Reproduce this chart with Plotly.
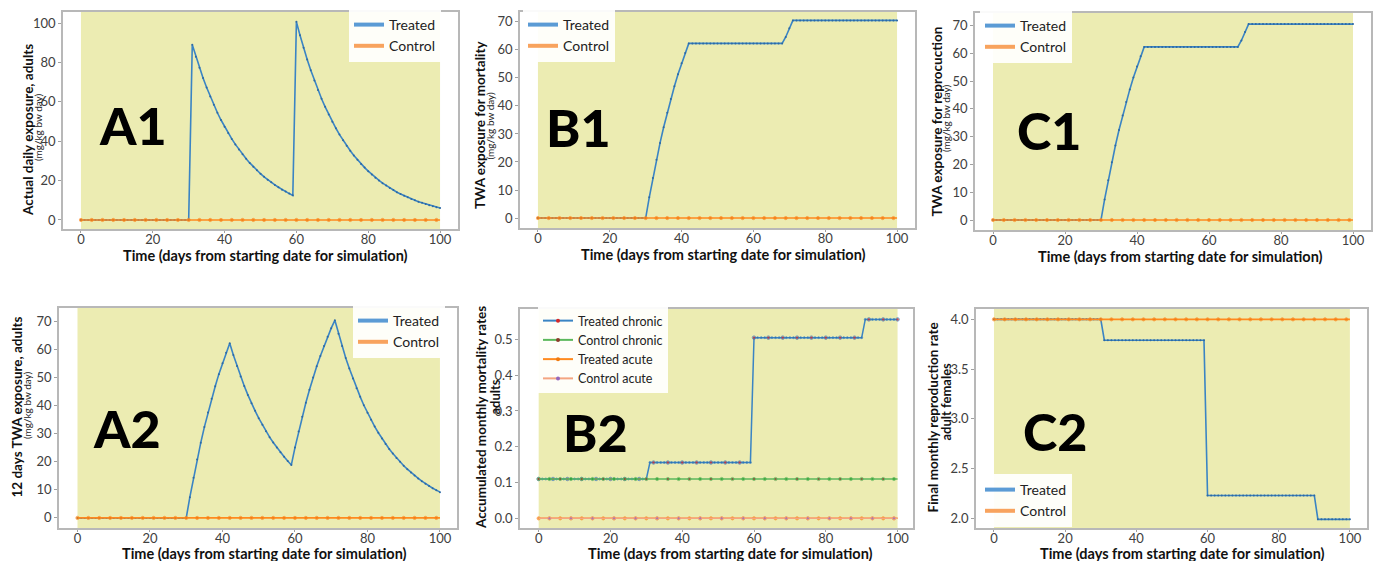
import plotly.graph_objects as go

FONT = "Lato"
W, H = 1378, 561

# ---------------- data ----------------
days = list(range(101))
x_ticks = [0, 20, 40, 60, 80, 100]

a1_treated = [0.0] * 31 + [
    89.0, 83.0, 77.4, 72.1, 67.3, 62.7, 58.5, 54.5, 50.8, 47.4,
    44.2, 41.2, 38.4, 35.8, 33.4, 31.1, 29.0, 27.0, 25.2, 23.5,
    21.9, 20.4, 19.1, 17.8, 16.6, 15.4, 14.4, 13.4, 12.5,
    100.7, 93.9, 87.5, 81.6, 76.1, 70.9, 66.1, 61.6, 57.5, 53.6,
    49.9, 46.6, 43.4, 40.5, 37.7, 35.2, 32.8, 30.6, 28.5, 26.6,
    24.8, 23.1, 21.5, 20.1, 18.7, 17.5, 16.3, 15.2, 14.1, 13.2,
    12.3, 11.5, 10.7, 10.0, 9.3, 8.7, 8.1, 7.5, 7.0, 6.5, 6.1]
a1_control = [0.0] * 101

a2_treated = [0.0] * 31 + [
    7.4, 14.3, 20.8, 26.8, 32.4, 37.6, 42.5, 47.0, 51.3, 55.2,
    58.9, 62.3, 58.1, 54.2, 50.5, 47.1, 43.9, 40.9, 38.2, 35.6,
    33.2, 30.9, 28.8, 26.9, 25.1, 23.4, 21.8, 20.3, 18.9, 25.1,
    30.8, 36.1, 41.1, 45.7, 50.1, 54.1, 57.8, 61.3, 64.6, 67.7,
    70.5, 65.7, 61.3, 57.1, 53.3, 49.7, 46.3, 43.2, 40.2, 37.5,
    35.0, 32.6, 30.4, 28.3, 26.4, 24.6, 23.0, 21.4, 20.0, 18.6,
    17.4, 16.2, 15.1, 14.1, 13.1, 12.2, 11.4, 10.6, 9.9, 9.2]
a2_control = [0.0] * 101

b1_treated = [0.0] * 31 + [
    7.4, 14.3, 20.8, 26.8, 32.4, 37.6, 42.5, 47.0, 51.3, 55.2,
    58.9, 62.3] + [62.3] * 26 + [64.6, 67.7] + [70.5] * 30
b1_control = [0.0] * 101

c1_treated = [0.0] * 31 + [
    7.4, 14.3, 20.8, 26.8, 32.4, 37.6, 42.5, 47.0, 51.3, 55.2,
    58.9, 62.3] + [62.3] * 26 + [64.6, 67.7] + [70.5] * 30
c1_control = [0.0] * 101

b2_treated_chronic = [0.11] * 31 + [0.156] * 29 + [0.505] * 31 + [0.556] * 10
b2_control_chronic = [0.11] * 101
b2_treated_acute = [0.0] * 101
b2_control_acute = [0.0] * 101

c2_treated = [4.0] * 31 + [3.79] * 29 + [2.23] * 31 + [1.99] * 10
c2_control = [4.0] * 101

X_TITLE = "Time (days from starting date for simulation)"

# ---------------- styling ----------------
BLUE_LINE = "#3a84c4"
BLUE_MARK = "#2d69a3"
ORANGE = "#ff8a1e"
LEG_BLUE = "#5b9bd5"
LEG_ORANGE = "#f8a35e"
KHAKI = "rgba(191,191,0,0.30)"
FRAME = "#b8b8b8"


def px(x):
    return x / W


def py(y):
    return 1 - y / H


panels = [
    dict(key="A1", xd=(63, 458), yd=(12, 229), xr=[-5, 105], yr=[-4.6, 105.7],
         yt=[0, 20, 40, 60, 80, 100], fmt="d",
         t1="Actual daily exposure, adults", t2="(mg/kg bw day)", t2small=True,
         t1pos=(28, 130), t2pos=(38, 127), xtpos=(265, 255.5),
         lab=(0.177, 0.48), leg=(349, 9, "top"),
         series=[("Treated", a1_treated), ("Control", a1_control)]),
    dict(key="B1", xd=(520, 915), yd=(12, 228), xr=[-5, 105], yr=[-3.55, 73.5],
         yt=[0, 10, 20, 30, 40, 50, 60, 70], fmt="d",
         t1="TWA exposure for mortality", t2="(mg/kg bw day)", t2small=True,
         t1pos=(480, 125), t2pos=(489.5, 126), xtpos=(724, 254.5),
         lab=(0.149, 0.468), leg=(523, 9, "top"),
         series=[("Treated", b1_treated), ("Control", b1_control)]),
    dict(key="C1", xd=(975, 1371), yd=(13, 230), xr=[-5, 105], yr=[-3.6, 74.5],
         yt=[0, 10, 20, 30, 40, 50, 60, 70], fmt="d",
         t1="TWA exposure for reprocuction", t2="(mg/kg bw day)", t2small=True,
         t1pos=(936.5, 122), t2pos=(946, 118), xtpos=(1180, 256.5),
         lab=(0.186, 0.461), leg=(980, 10, "top"),
         series=[("Treated", c1_treated), ("Control", c1_control)]),
    dict(key="A2", xd=(59, 457), yd=(308, 528), xr=[-5.1, 104.7], yr=[-3.6, 74.9],
         yt=[0, 10, 20, 30, 40, 50, 60, 70], fmt="d",
         t1="12 days TWA exposure, adults", t2="(mg/kg bw day)", t2small=True,
         t1pos=(16.5, 407), t2pos=(27, 405), xtpos=(264, 553.5),
         lab=(0.171, 0.455), leg=(353, 305, "top"),
         series=[("Treated", a2_treated), ("Control", a2_control)]),
    dict(key="B2", xd=(520, 913), yd=(309, 528), xr=[-5.2, 104.3], yr=[-0.027, 0.585],
         yt=[0.0, 0.1, 0.2, 0.3, 0.4, 0.5], fmt=".1f",
         t1="Accumulated monthly mortality rates", t2="adults", t2small=False,
         t1pos=(481, 417), t2pos=(494.5, 397), xtpos=(730, 553.5),
         lab=(0.191, 0.438), leg=(538, 306, "top"),
         series=None),
    dict(key="C2", xd=(976, 1367), yd=(309, 528), xr=[-5.05, 104.8], yr=[1.903, 4.104],
         yt=[2.0, 2.5, 3.0, 3.5, 4.0], fmt=".1f",
         t1="Final monthly reproduction rate", t2="adult females", t2small=False,
         t1pos=(932.5, 418), t2pos=(945.5, 402), xtpos=(1182, 553.5),
         lab=(0.202, 0.443), leg=(980, 527, "bottom"),
         series=[("Treated", c2_treated), ("Control", c2_control)]),
]

fig = go.Figure()
layout = dict(width=W, height=H, margin=dict(l=0, r=0, t=0, b=0),
              paper_bgcolor="white", plot_bgcolor="white", showlegend=True)
shapes, annotations = [], []

every3 = [3.2 if d % 3 == 0 else 0 for d in days]

for i, p in enumerate(panels, start=1):
    sx = "" if i == 1 else str(i)
    xa, ya = "x" + sx, "y" + sx
    lg = "legend" + sx
    layout["xaxis" + sx] = dict(
        domain=[px(p["xd"][0]), px(p["xd"][1])], range=p["xr"], anchor=ya,
        showgrid=False, zeroline=False, showline=True, mirror=True,
        linecolor=FRAME, linewidth=1.5, ticks="outside", ticklen=2,
        tickcolor="#a0a0a0", tickvals=x_ticks, ticklabelstandoff=-4,
        tickfont=dict(family=FONT, size=13, color="#404040"))
    layout["yaxis" + sx] = dict(
        domain=[py(p["yd"][1]), py(p["yd"][0])], range=p["yr"], anchor=xa,
        showgrid=False, zeroline=False, showline=True, mirror=True,
        linecolor=FRAME, linewidth=1.5, ticks="outside", ticklen=3,
        tickcolor="#a0a0a0", tickvals=p["yt"],
        tickformat=p["fmt"], tickfont=dict(family=FONT, size=13, color="#404040"))
    lx, ly, anc = p["leg"]
    layout[lg] = dict(x=px(lx), y=py(ly), xanchor="left", yanchor=anc,
                      bgcolor="rgba(255,255,255,0.92)", borderwidth=0,
                      font=dict(family=FONT, size=14 if p["series"] else 12.5,
                                color="#222222"),
                      itemwidth=30, tracegroupgap=0)

    shapes.append(dict(type="rect", xref=xa, yref=ya + " domain", x0=0, x1=100, y0=0, y1=1,
                       fillcolor=KHAKI, line=dict(width=0), layer="below"))

    if p["series"]:
        (n1, v1), (n2, v2) = p["series"]
        fig.add_trace(go.Scatter(x=days, y=v1, mode="lines+markers", xaxis=xa, yaxis=ya,
                                 line=dict(color=BLUE_LINE, width=1.6),
                                 marker=dict(color=BLUE_MARK, size=2),
                                 showlegend=False, hoverinfo="skip"))
        fig.add_trace(go.Scatter(x=days, y=v2, mode="lines+markers", xaxis=xa, yaxis=ya,
                                 line=dict(color=ORANGE, width=1.6),
                                 marker=dict(color="#f07a10", size=every3),
                                 showlegend=False, hoverinfo="skip"))
        for name, col in ((n1, LEG_BLUE), (n2, LEG_ORANGE)):
            fig.add_trace(go.Scatter(x=[None], y=[None], mode="lines", name=name,
                                     xaxis=xa, yaxis=ya, legend=lg,
                                     line=dict(color=col, width=4)))
    else:
        tc_col = ["#d62728" if d % 4 == 0 else BLUE_MARK for d in days]
        tc_size = [3.5 if d % 4 == 0 else 2 for d in days]
        cc_col = ["#8c3b2b" if d % 6 == 0 else "#2ca02c" for d in days]
        ca_size = [3.2 if d % 6 == 3 else 0 for d in days]
        b2 = [
            ("Treated chronic", b2_treated_chronic, BLUE_LINE, dict(color=tc_col, size=tc_size),
             dict(color="#d62728", size=4)),
            ("Control chronic", b2_control_chronic, "#5cb85c", dict(color=cc_col, size=every3),
             dict(color="#8c3b2b", size=4)),
            ("Treated acute", b2_treated_acute, ORANGE, dict(color="#f07a10", size=every3),
             dict(color="#f07a10", size=4)),
            ("Control acute", b2_control_acute, "#f4a582", dict(color="#9467bd", size=ca_size),
             dict(color="#9467bd", size=4)),
        ]
        for name, vals, lc, mk, lmk in b2:
            fig.add_trace(go.Scatter(x=days, y=vals, mode="lines+markers", xaxis=xa, yaxis=ya,
                                     line=dict(color=lc, width=1.5), marker=mk,
                                     showlegend=False, hoverinfo="skip"))
        for name, vals, lc, mk, lmk in b2:
            fig.add_trace(go.Scatter(x=[None], y=[None], mode="lines+markers", name=name,
                                     xaxis=xa, yaxis=ya, legend=lg,
                                     line=dict(color=lc, width=2), marker=lmk))

    # x-axis title
    annotations.append(dict(text="<b>" + X_TITLE + "</b>", xref="paper", yref="paper",
                            x=px(p["xtpos"][0]), y=py(p["xtpos"][1]), showarrow=False,
                            xanchor="center", yanchor="middle",
                            font=dict(family=FONT, size=14.5, color="#111111")))
    # y-axis titles (two lines)
    annotations.append(dict(text="<b>" + p["t1"] + "</b>", xref="paper", yref="paper",
                            x=px(p["t1pos"][0]), y=py(p["t1pos"][1]), textangle=-90,
                            showarrow=False, xanchor="center", yanchor="middle",
                            font=dict(family=FONT, size=13.5, color="#111111")))
    if p["t2small"]:
        t2 = p["t2"]
        f2 = dict(family=FONT, size=10, color="#222222")
    else:
        t2 = "<b>" + p["t2"] + "</b>"
        f2 = dict(family=FONT, size=13, color="#111111")
    annotations.append(dict(text=t2, xref="paper", yref="paper",
                            x=px(p["t2pos"][0]), y=py(p["t2pos"][1]), textangle=-90,
                            showarrow=False, xanchor="center", yanchor="middle", font=f2))
    # panel label
    annotations.append(dict(text=p["key"], xref=xa + " domain", yref=ya + " domain",
                            x=p["lab"][0], y=p["lab"][1], showarrow=False,
                            xanchor="center", yanchor="middle",
                            font=dict(family=FONT, size=52, color="#000000", weight=900)))

layout["shapes"] = shapes
layout["annotations"] = annotations
fig.update_layout(**layout)
fig.write_html("out.html")
